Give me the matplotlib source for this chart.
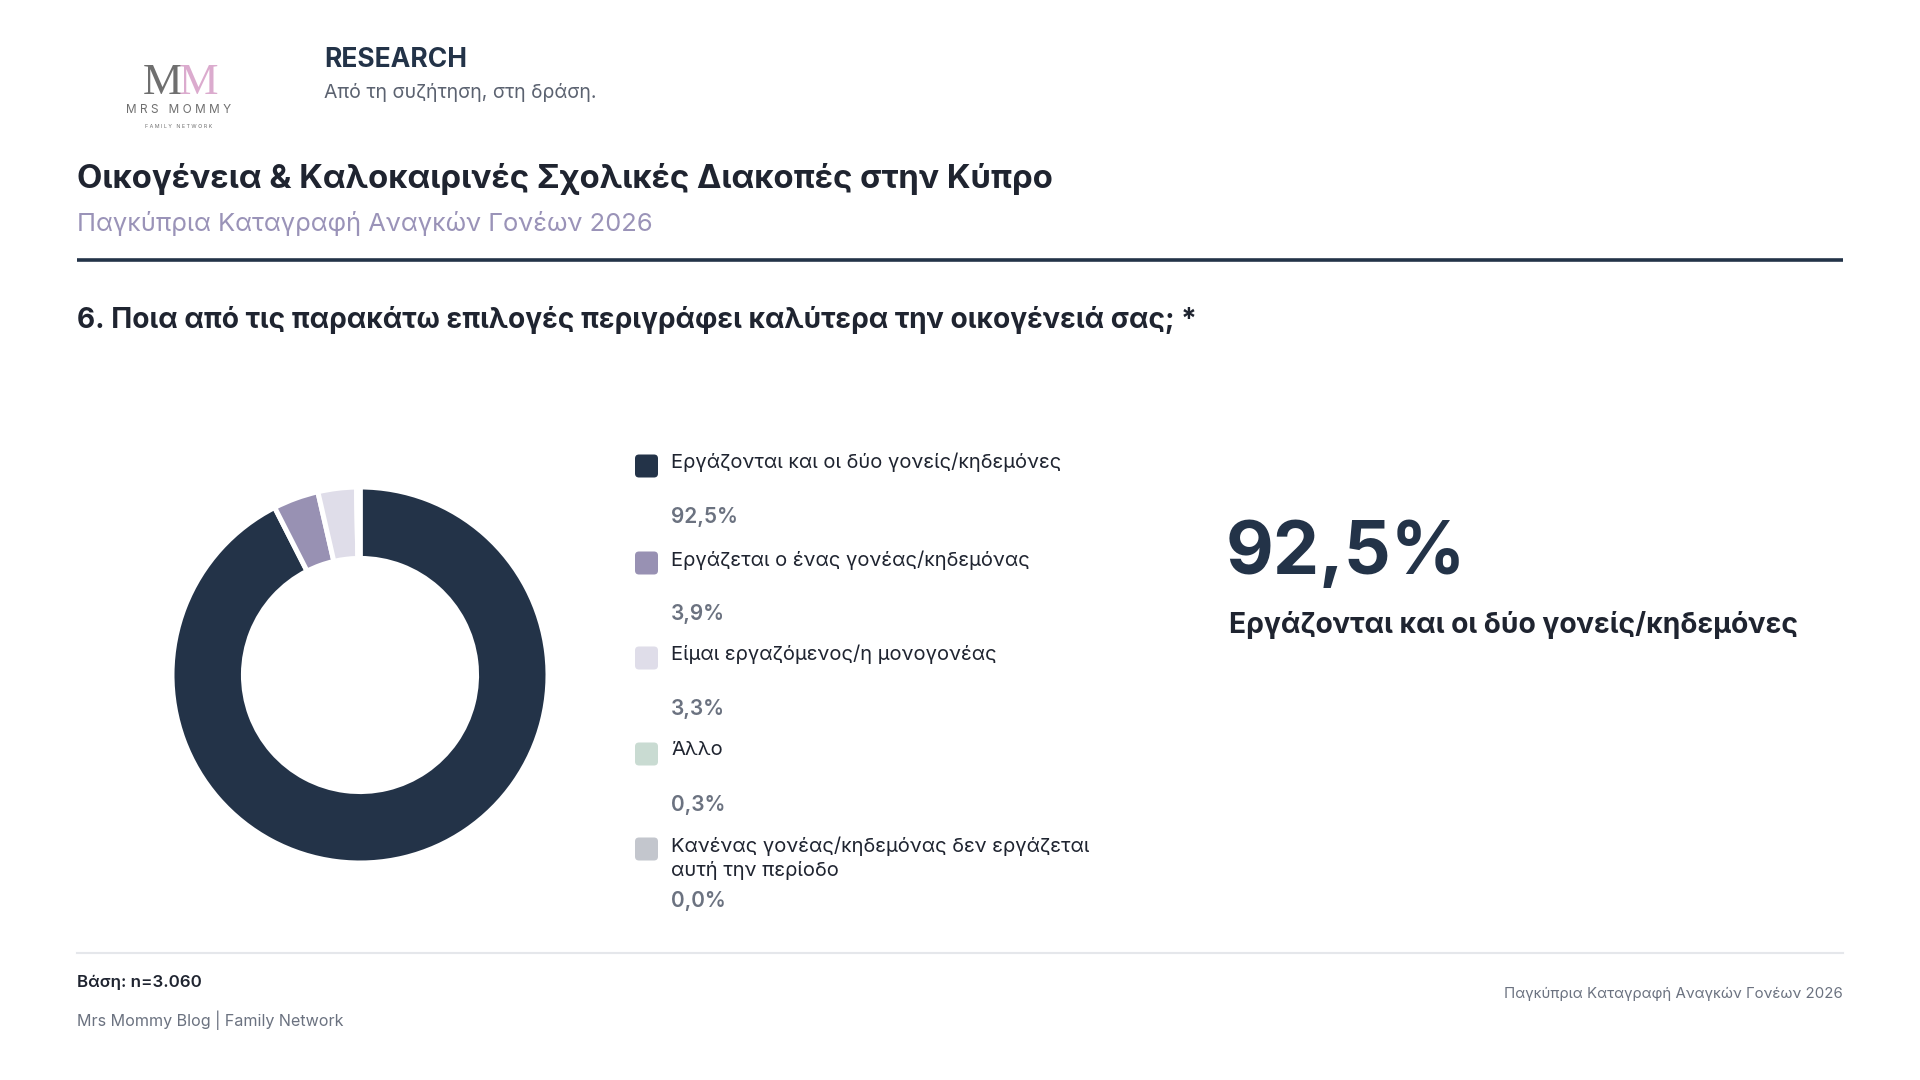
import matplotlib
matplotlib.use("Agg")
import matplotlib.pyplot as plt
from matplotlib.patches import FancyBboxPatch

plt.rcParams['font.family'] = ['Inter', 'DejaVu Sans']

# data
labels = [
    "Εργάζονται και οι δύο γονείς/κηδεμόνες",
    "Εργάζεται ο ένας γονέας/κηδεμόνας",
    "Είμαι εργαζόμενος/η μονογονέας",
    "Άλλο",
    "Κανένας γονέας/κηδεμόνας δεν εργάζεται\nαυτή την περίοδο",
]
values = [92.5, 3.9, 3.3, 0.3, 0.0]
colors = ["#233348", "#9891b3", "#dfdde9", "#c9dbd2", "#c3c6cd"]

title = "Οικογένεια & Καλοκαιρινές Σχολικές Διακοπές στην Κύπρο"
subtitle = "Παγκύπρια Καταγραφή Αναγκών Γονέων 2026"
question = "6. Ποια από τις παρακάτω επιλογές περιγράφει καλύτερα την οικογένειά σας; *"
base_note = "Βάση: n=3.060"

NAVY = "#233348"
GREY = "#6b7280"


def fmt(v):
    return f"{v:.1f}".replace(".", ",") + "%"


fig = plt.figure(figsize=(19.2, 10.8), dpi=100)
fig.patch.set_facecolor("white")

# overlay in pixel coords
ov = fig.add_axes([0, 0, 1, 1])
ov.set_xlim(0, 1920)
ov.set_ylim(1080, 0)
ov.axis("off")

# logo
ov.text(162, 83, "M", fontsize=32, family="Liberation Serif", color="#6f6f6f",
        ha="center", va="center")
ov.text(199, 83, "M", fontsize=32, family="Liberation Serif", color="#d8a2c9",
        ha="center", va="center", alpha=0.9)
ov.text(179, 110, "M R S   M O M M Y", fontsize=8.5, color="#6f6f6f",
        ha="center", va="center")
ov.text(179, 127, "F A M I L Y   N E T W O R K", fontsize=3.8, color="#6f6f6f",
        ha="center", va="center")

# header
ov.text(324, 60, "RESEARCH", fontsize=19, fontweight="bold", color=NAVY,
        ha="left", va="center")
ov.text(324, 92, "Από τη συζήτηση, στη δράση.", fontsize=14, color="#5b6270",
        ha="left", va="center")

ov.text(77, 179, title, fontsize=23.7, fontweight="bold", color="#1f2430",
        ha="left", va="center")
ov.text(77, 223, subtitle, fontsize=18.4, color="#9a93b8", ha="left", va="center")
ov.plot([77, 1843], [260, 260], color=NAVY, lw=2.6, solid_capstyle="butt")

ov.text(77, 320, question, fontsize=20.2, fontweight="bold", color="#1f2430",
        ha="left", va="center")

# legend
label_y = [466, 563, 658, 754, 849]
for i, (lab, v, c) in enumerate(zip(labels, values, colors)):
    y = label_y[i]
    ov.add_patch(FancyBboxPatch((635, y - 11.5), 23, 23,
                                boxstyle="round,pad=0,rounding_size=4",
                                fc=c, ec="none"))
    ov.text(671, y - 13, lab, fontsize=14.5, color="#1f2430", ha="left",
            va="top", linespacing=1.38)
    nlines = lab.count("\n")
    py = y + 51 + nlines * 1
    ov.text(671, py, fmt(v), fontsize=15, fontweight="semibold", color=GREY,
            ha="left", va="center")

# highlight
top = max(range(len(values)), key=lambda k: values[k])
ov.text(1226, 555, fmt(values[top]), fontsize=53, fontweight="bold", color=NAVY,
        ha="left", va="center")
ov.text(1229, 625, labels[top], fontsize=20.3, fontweight="bold", color="#1f2430",
        ha="left", va="center")

# footer
ov.plot([77, 1843], [953, 953], color="#e5e7eb", lw=1.5)
ov.text(77, 982, base_note, fontsize=12.2, fontweight="semibold", color="#1f2430",
        ha="left", va="center")
ov.text(77, 1020, "Mrs Mommy Blog | Family Network", fontsize=11.6, color=GREY,
        ha="left", va="center")
ov.text(1843, 994, subtitle, fontsize=10.8, color=GREY, ha="right", va="center")

# donut
cx, cy, r = 360, 675, 188
ax = fig.add_axes([(cx - r) / 1920, (1080 - cy - r) / 1080, 2 * r / 1920, 2 * r / 1080])
ax.pie(values, colors=colors, startangle=90, counterclock=False, radius=1.0,
       wedgeprops=dict(width=0.38, edgecolor="white", linewidth=3.6))
ax.set_xlim(-1, 1)
ax.set_ylim(-1, 1)
ax.set_aspect("equal")
ax.axis("off")

fig.savefig("out.png", dpi=100, facecolor="white")
